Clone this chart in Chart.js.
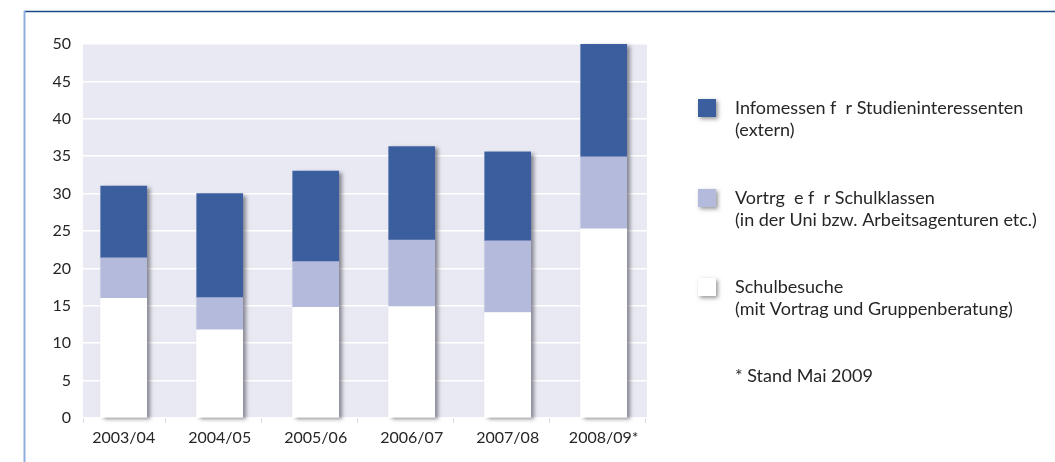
<!DOCTYPE html>
<html>
<head>
<meta charset="utf-8">
<script src="https://cdn.jsdelivr.net/npm/chart.js@4.4.1/dist/chart.umd.min.js"></script>
<style>
  html, body { margin: 0; padding: 0; background: #ffffff; }
  #wrap { width: 1055px; height: 462px; position: relative; }
</style>
</head>
<body>
<div id="wrap"><canvas id="chart" width="1055" height="462"></canvas></div>
<script>
// School years shown on the x axis
const categories = ['2003/04', '2004/05', '2005/06', '2006/07', '2007/08', '2008/09*'];

// Number of events per year, stacked bottom to top
const schulbesuche = [16.0, 11.8, 14.8, 14.9, 14.1, 25.3];
const vortraege    = [5.4, 4.3, 6.1, 8.9, 9.6, 9.6];
const infomessen   = [9.6, 13.9, 12.1, 12.5, 11.9, 15.1];

// Value axis ticks
const yTicks = [0, 5, 10, 15, 20, 25, 30, 35, 40, 45, 50];

// Legend texts (two lines each) and footnote
const labelInfomessen   = ['Infomessen f  r Studieninteressenten', '(extern)'];
const labelVortraege    = ['Vortrg  e f  r Schulklassen', '(in der Uni bzw. Arbeitsagenturen etc.)'];
const labelSchulbesuche = ['Schulbesuche', '(mit Vortrag und Gruppenberatung)'];
const footnote = '* Stand Mai 2009';

const COLOR_DARK  = '#3b5e9e';
const COLOR_LIGHT = '#b3badb';
const COLOR_WHITE = '#ffffff';
const PLOT_BG     = '#e9e9f3';
const TEXT_COLOR  = '#262626';
const FONT_FAMILY = 'Lato, "Open Sans", sans-serif';

// x range of the linear index axis (bars sit on integer positions)
const X_MIN = -0.424;
const X_MAX = 5.451;
const TICK_SHIFT = 0.06;

const toPoints = arr => arr.map((v, i) => ({ x: i, y: v }));

// Page frame, plot background
const framePlugin = {
  id: 'frame',
  beforeDraw(chart) {
    const { ctx, chartArea } = chart;
    ctx.save();
    ctx.fillStyle = '#ffffff';
    ctx.fillRect(0, 0, chart.width, chart.height);
    ctx.fillStyle = PLOT_BG;
    ctx.fillRect(chartArea.left, chartArea.top, chartArea.right - chartArea.left, chartArea.bottom - chartArea.top);
    // top rule
    ctx.strokeStyle = '#1d4a87';
    ctx.lineWidth = 1.5;
    ctx.beginPath();
    ctx.moveTo(24, 11.5);
    ctx.lineTo(chart.width, 11.5);
    ctx.stroke();
    // left rule
    ctx.strokeStyle = '#8fb0df';
    ctx.lineWidth = 2;
    ctx.beginPath();
    ctx.moveTo(24.5, 11);
    ctx.lineTo(24.5, chart.height);
    ctx.stroke();
    ctx.restore();
  }
};

// Soft drop shadow behind each full stack
const barShadowPlugin = {
  id: 'barShadow',
  beforeDatasetsDraw(chart) {
    const ctx = chart.ctx;
    const metas = chart.getSortedVisibleDatasetMetas();
    ctx.save();
    ctx.shadowColor = 'rgba(50,50,60,0.55)';
    ctx.shadowBlur = 4;
    ctx.shadowOffsetX = 3;
    ctx.shadowOffsetY = 2;
    ctx.fillStyle = '#ffffff';
    for (let j = 0; j < categories.length; j++) {
      let top = Infinity, bottom = -Infinity, x = 0, w = 0;
      metas.forEach(m => {
        const el = m.data[j];
        if (!el) return;
        const p = el.getProps(['x', 'y', 'base', 'width'], true);
        top = Math.min(top, p.y, p.base);
        bottom = Math.max(bottom, p.y, p.base);
        x = p.x; w = p.width;
      });
      ctx.fillRect(x - w / 2, top, w, bottom - top);
    }
    ctx.restore();
  }
};

// Legend to the right of the plot, topmost series first
const sideLegendPlugin = {
  id: 'sideLegend',
  afterDraw(chart) {
    const ctx = chart.ctx;
    const ds = chart.data.datasets;
    const items = [ds[2], ds[1], ds[0]];
    const swatchX = 698, textX = 735, size = 18;
    const tops = [99, 189, 278];
    ctx.save();
    ctx.font = '18px ' + FONT_FAMILY;
    ctx.textBaseline = 'middle';
    ctx.textAlign = 'left';
    items.forEach((d, i) => {
      const top = tops[i];
      ctx.save();
      ctx.shadowColor = 'rgba(50,50,60,0.5)';
      ctx.shadowBlur = 4;
      ctx.shadowOffsetX = 2;
      ctx.shadowOffsetY = 2;
      ctx.fillStyle = d.backgroundColor;
      ctx.fillRect(swatchX, top, size, size);
      ctx.restore();
      ctx.fillStyle = TEXT_COLOR;
      d.legendLines.forEach((line, k) => {
        ctx.fillText(line, textX, top + size / 2 + k * 22);
      });
    });
    ctx.fillText(footnote, textX, 376);
    ctx.restore();
  }
};

const fontSpec = { family: FONT_FAMILY, size: 16 };

new Chart(document.getElementById('chart'), {
  type: 'bar',
  data: {
    datasets: [
      { label: labelSchulbesuche.join(' '), legendLines: labelSchulbesuche, data: toPoints(schulbesuche), backgroundColor: COLOR_WHITE },
      { label: labelVortraege.join(' '), legendLines: labelVortraege, data: toPoints(vortraege), backgroundColor: COLOR_LIGHT },
      { label: labelInfomessen.join(' '), legendLines: labelInfomessen, data: toPoints(infomessen), backgroundColor: COLOR_DARK }
    ]
  },
  options: {
    responsive: false,
    animation: false,
    devicePixelRatio: 1,
    datasets: { bar: { barThickness: 46, borderWidth: 0 } },
    layout: { padding: { top: 44, right: 408, bottom: 0, left: 0 } },
    plugins: {
      legend: { display: false },
      tooltip: { enabled: false }
    },
    scales: {
      x: {
        type: 'linear',
        position: 'bottom',
        min: X_MIN, max: X_MAX,
        offset: false,
        bounds: 'data',
        stacked: true,
        weight: 1,
        grid: { display: false, drawTicks: false, offset: false },
        border: { display: false },
        ticks: {
          padding: 5, autoSkip: false, maxRotation: 0,
          font: fontSpec, color: TEXT_COLOR,
          callback: v => categories[v] !== undefined ? categories[v] : ''
        },
        afterBuildTicks: s => { s.ticks = categories.map((_, i) => ({ value: i })); },
        afterFit: s => { s.height = 39; }
      },
      xt: {
        type: 'linear',
        axis: 'x',
        position: 'bottom',
        min: X_MIN, max: X_MAX,
        offset: false,
        bounds: 'data',
        weight: 0,
        grid: { drawOnChartArea: false, tickLength: 5, color: '#d9d9e3', lineWidth: 1, offset: false },
        border: { display: false },
        ticks: { display: false },
        afterBuildTicks: s => {
          const marks = [X_MIN];
          for (let i = 0; i < categories.length; i++) marks.push(i + 0.5 - TICK_SHIFT);
          s.ticks = marks.map(v => ({ value: v }));
        },
        afterFit: s => { s.height = 5; }
      },
      y: {
        min: 0, max: 50,
        stacked: true,
        grid: { color: '#ffffff', lineWidth: 1.5, tickLength: 6 },
        border: { display: false },
        ticks: { padding: 6, font: fontSpec, color: TEXT_COLOR },
        afterBuildTicks: s => { s.ticks = yTicks.map(v => ({ value: v })); },
        afterFit: s => { s.width = 83; }
      }
    }
  },
  plugins: [framePlugin, barShadowPlugin, sideLegendPlugin]
});
</script>
</body>
</html>
